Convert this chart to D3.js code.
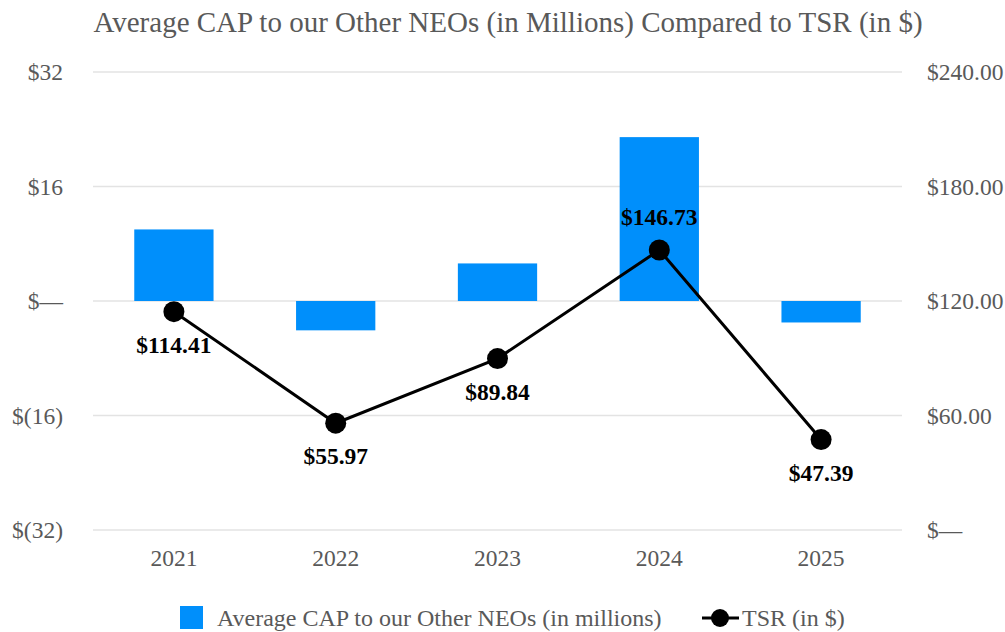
<!DOCTYPE html>
<html><head><meta charset="utf-8">
<script src="https://cdn.jsdelivr.net/npm/d3@7/dist/d3.min.js"></script>
<style>body{margin:0;background:#fff}svg{display:block}</style>
</head><body>
<script>
const years = ["2021","2022","2023","2024","2025"];
const capValues = [10.0, -4.1, 5.25, 22.9, -3.0];
const tsrValues = [114.41, 55.97, 89.84, 146.73, 47.39];
const tsrLabels = ["$114.41","$55.97","$89.84","$146.73","$47.39"];
const leftTicks = [32, 16, 0, -16, -32];
const leftTickLabels = ["$32","$16","$\u2014","$(16)","$(32)"];
const rightTicks = [240, 180, 120, 60, 0];
const rightTickLabels = ["$240.00","$180.00","$120.00","$60.00","$\u2014"];
const labelAbove = [false, false, false, true, false];

const W = 1005, H = 632;
const m = {left: 93, right: 103, top: 72, bottom: 102};
const font = "'Liberation Serif','Times New Roman',serif";
const svg = d3.select("body").append("svg").attr("width", W).attr("height", H);

const x = d3.scaleBand().domain(years).range([m.left, W - m.right]).paddingInner(0).paddingOuter(0);
const yL = d3.scaleLinear().domain([-32, 32]).range([H - m.bottom, m.top]);
const yR = d3.scaleLinear().domain([0, 240]).range([H - m.bottom, m.top]);

// title
svg.append("text").attr("x", 508).attr("y", 32).attr("text-anchor", "middle")
  .attr("font-family", font).attr("font-size", 29).attr("fill", "#595959")
  .text("Average CAP to our Other NEOs (in Millions) Compared to TSR (in $)");

// gridlines
svg.append("g").selectAll("line").data(leftTicks).join("line")
  .attr("x1", m.left).attr("x2", W - m.right)
  .attr("y1", d => yL(d)).attr("y2", d => yL(d))
  .attr("stroke", "#e3e3e3").attr("stroke-width", 1.5);

// left axis
const gl = svg.append("g").attr("transform", `translate(${m.left - 30},0)`)
  .call(d3.axisLeft(yL).tickValues(leftTicks).tickSize(0).tickPadding(0)
    .tickFormat((d, i) => leftTickLabels[i]));
gl.select(".domain").remove();
gl.selectAll("text").attr("font-family", font).attr("font-size", 23.5).attr("fill", "#595959");

// right axis
const gr = svg.append("g").attr("transform", `translate(${W - m.right + 25},0)`)
  .call(d3.axisRight(yR).tickValues(rightTicks).tickSize(0).tickPadding(0)
    .tickFormat((d, i) => rightTickLabels[i]));
gr.select(".domain").remove();
gr.selectAll("text").attr("font-family", font).attr("font-size", 23.5).attr("fill", "#595959");

// x axis
const gx = svg.append("g").attr("transform", `translate(0,${H - m.bottom + 19})`)
  .call(d3.axisBottom(x).tickSize(0).tickPadding(0));
gx.select(".domain").remove();
gx.selectAll("text").attr("font-family", font).attr("font-size", 23.5).attr("fill", "#595959").attr("dy", "0.71em");

// bars
const bw = x.bandwidth() * 0.49;
svg.append("g").selectAll("rect").data(capValues).join("rect")
  .attr("x", (d, i) => x(years[i]) + (x.bandwidth() - bw) / 2)
  .attr("width", bw)
  .attr("y", d => yL(Math.max(0, d)))
  .attr("height", d => Math.abs(yL(d) - yL(0)))
  .attr("fill", "#008ffb");

// line
const cx = (d, i) => x(years[i]) + x.bandwidth() / 2;
svg.append("path").datum(tsrValues)
  .attr("d", d3.line().x(cx).y(d => yR(d)))
  .attr("fill", "none").attr("stroke", "#000").attr("stroke-width", 3);
svg.append("g").selectAll("circle").data(tsrValues).join("circle")
  .attr("cx", cx).attr("cy", d => yR(d)).attr("r", 10.5).attr("fill", "#000");

// labels
svg.append("g").selectAll("text").data(tsrValues).join("text")
  .attr("x", cx)
  .attr("y", (d, i) => yR(d) + (labelAbove[i] ? -25 : 41))
  .attr("text-anchor", "middle").attr("font-family", font).attr("font-weight", "bold")
  .attr("font-size", 23.5).attr("fill", "#000")
  .text((d, i) => tsrLabels[i]);

// legend
const lg = svg.append("g");
lg.append("rect").attr("x", 180).attr("y", 606).attr("width", 23).attr("height", 23).attr("fill", "#008ffb");
lg.append("text").attr("x", 217).attr("y", 626).attr("font-family", font).attr("font-size", 24).attr("fill", "#595959")
  .text("Average CAP to our Other NEOs (in millions)");
lg.append("line").attr("x1", 702).attr("x2", 739).attr("y1", 618).attr("y2", 618).attr("stroke", "#000").attr("stroke-width", 3);
lg.append("circle").attr("cx", 720).attr("cy", 618).attr("r", 9).attr("fill", "#000");
lg.append("text").attr("x", 742).attr("y", 626).attr("font-family", font).attr("font-size", 24).attr("fill", "#595959")
  .text("TSR (in $)");
</script>
</body></html>
